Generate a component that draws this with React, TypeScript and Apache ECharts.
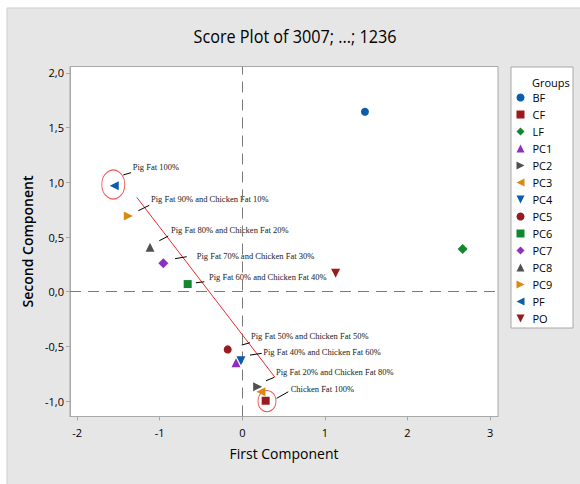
import React, { useEffect, useRef } from "react";
import * as echarts from "echarts";

// ---------- data ----------
const groups = ["BF", "CF", "LF", "PC1", "PC2", "PC3", "PC4", "PC5", "PC6", "PC7", "PC8", "PC9", "PF", "PO"];
const firstComponent = [1.485, 0.283, 2.668, -0.076, 0.186, 0.226, -0.016, -0.177, -0.661, -0.956, -1.117, -1.38, -1.55, 1.13];
const secondComponent = [1.645, -0.996, 0.39, -0.649, -0.868, -0.914, -0.631, -0.527, 0.07, 0.26, 0.406, 0.692, 0.969, 0.168];

const xTicks = [-2, -1, 0, 1, 2, 3];
const yTicks = [-1, -0.5, 0, 0.5, 1, 1.5, 2];

const annotationTexts = [
  "Pig Fat 100%",
  "Pig Fat 90% and Chicken Fat 10%",
  "Pig Fat 80% and Chicken Fat 20%",
  "Pig Fat 70% and Chicken Fat 30%",
  "Pig Fat 60% and Chicken Fat 40%",
  "Pig Fat 50% and Chicken Fat 50%",
  "Pig Fat 40% and Chicken Fat 60%",
  "Pig Fat 20% and Chicken Fat 80%",
  "Chicken Fat 100%",
];
const annotationX = [-1.327, -1.105, -0.863, -0.552, -0.403, 0.105, 0.254, 0.408, 0.586];
const annotationY = [1.137, 0.847, 0.561, 0.329, 0.137, -0.402, -0.548, -0.731, -0.889];
const leaderX1 = [-1.441, -1.259, -1.005, -0.815, -0.561, -0.007, 0.093, 0.287, 0.416];
const leaderY1 = [1.067, 0.74, 0.466, 0.302, 0.082, -0.487, -0.579, -0.814, -0.974];
const leaderX2 = [-1.347, -1.126, -0.896, -0.673, -0.46, 0.093, 0.235, 0.387, 0.557];
const leaderY2 = [1.088, 0.79, 0.509, 0.32, 0.091, -0.466, -0.563, -0.782, -0.914];

const trendStart = [-1.278, 0.863];
const trendEnd = [0.396, -0.782];

const circledX = [-1.562, 0.299];
const circledY = [0.98, -1.0];

// ---------- styles ----------
const BLUE = "#0b5cab";
const RED = "#9a1b1f";
const GREEN = "#12882e";
const PURPLE = "#8d2fc0";
const GRAY = "#505050";
const ORANGE = "#d98a10";
const RIGHT = "path://M0,0L10,5L0,10Z";
const LEFT = "path://M10,0L0,5L10,10Z";
const DOWN = "path://M0,0L10,0L5,10Z";
const symbolList = ["circle", "rect", "diamond", "triangle", RIGHT, LEFT, DOWN, "circle", "rect", "diamond", "triangle", RIGHT, LEFT, DOWN];
const colorList = [BLUE, RED, GREEN, PURPLE, GRAY, ORANGE, BLUE, RED, GREEN, PURPLE, GRAY, ORANGE, BLUE, RED];
const sizeList = [8, 8, 10, 9, 9, 9, 9, 8, 8, 10, 9, 9, 9, 9];
const circleSizes: [number, number][] = [[23, 29], [18, 21]];

const UI_FONT = "'Open Sans', 'Noto Sans', sans-serif";
const SERIF = "'Liberation Serif', 'DejaVu Serif', serif";

export default function App() {
  const ref = useRef<HTMLDivElement>(null);

  useEffect(() => {
    if (!ref.current) return;
    document.body.style.margin = "0";
    const chart = echarts.init(ref.current, undefined, { renderer: "svg" });

    const groupSeries = groups.map((g, i) => ({
      name: g,
      type: "scatter",
      data: [[firstComponent[i], secondComponent[i]]],
      symbol: symbolList[i],
      symbolSize: sizeList[i],
      itemStyle: { color: colorList[i], opacity: 1 },
      z: 5,
      emphasis: { disabled: true },
    }));

    const leaderLines = annotationTexts.map((_, i) => [
      { coord: [leaderX1[i], leaderY1[i]] },
      { coord: [leaderX2[i], leaderY2[i]] },
    ]);

    const option: any = {
      animation: false,
      backgroundColor: "#ffffff",
      graphic: [
        {
          type: "rect",
          shape: { x: 7, y: 8, width: 580, height: 484 },
          style: { fill: "#e6e6e6", stroke: "#cdcdcd", lineWidth: 1 },
          z: -10,
          silent: true,
        },
        {
          type: "text",
          x: 295,
          y: 36,
          scaleX: 0.9,
          style: {
            text: "Score Plot of 3007; ...; 1236",
            font: `500 18px ${UI_FONT}`,
            fill: "#000000",
            textAlign: "center",
            textVerticalAlign: "middle",
          },
        },
        {
          type: "rect",
          shape: { x: 511, y: 67, width: 62, height: 261 },
          style: { fill: "#ffffff", stroke: "#a8a8a8", lineWidth: 1 },
          z: 0,
          silent: true,
        },
        {
          type: "text",
          x: 532,
          y: 82,
          style: {
            text: "Groups",
            font: `11px ${UI_FONT}`,
            fill: "#000000",
            textAlign: "left",
            textVerticalAlign: "middle",
          },
          z: 1,
        },
      ],
      legend: {
        orient: "vertical",
        left: 516.5,
        top: 92,
        itemWidth: 8,
        itemHeight: 8,
        itemGap: 6,
        data: groups,
        textStyle: { fontSize: 11, fontFamily: UI_FONT, color: "#000000", padding: [0, 0, 0, 3] },
        padding: 0,
        selectedMode: false,
        z: 5,
      },
      grid: {
        left: 70,
        right: 82,
        top: 66.5,
        bottom: 67.5,
        show: true,
        backgroundColor: "#ffffff",
        borderColor: "#a8a8a8",
        borderWidth: 1,
        containLabel: false,
      },
      xAxis: {
        type: "value",
        min: -2.086,
        max: 3.096,
        name: "First Component",
        nameLocation: "middle",
        nameGap: 30,
        nameTextStyle: { fontSize: 14, fontFamily: UI_FONT, color: "#000000" },
        axisLine: { show: true, onZero: false, lineStyle: { color: "#a8a8a8" } },
        axisTick: { show: true, customValues: xTicks, length: 4, lineStyle: { color: "#a8a8a8" } },
        axisLabel: {
          customValues: xTicks,
          fontSize: 11,
          fontFamily: UI_FONT,
          color: "#000000",
          margin: 10,
          formatter: (v: number) => String(v),
        },
        splitLine: { show: false },
      },
      yAxis: {
        type: "value",
        min: -1.14,
        max: 2.058,
        name: "Second Component",
        nameLocation: "middle",
        nameGap: 33,
        nameTextStyle: { fontSize: 14, fontFamily: UI_FONT, color: "#000000", fontWeight: 600 },
        axisLine: { show: true, onZero: false, lineStyle: { color: "#a8a8a8" } },
        axisTick: { show: true, customValues: yTicks, length: 4, lineStyle: { color: "#a8a8a8" } },
        axisLabel: {
          customValues: yTicks,
          fontSize: 11,
          fontFamily: UI_FONT,
          color: "#000000",
          margin: 6,
          formatter: (v: number) => v.toFixed(1).replace(".", ","),
        },
        splitLine: { show: false },
      },
      series: [
        {
          name: "refLines",
          type: "scatter",
          data: [],
          silent: true,
          z: 2,
          markLine: {
            silent: true,
            symbol: "none",
            label: { show: false },
            animation: false,
            lineStyle: { color: "#7a7a7a", type: [11, 7], width: 1 },
            data: [{ xAxis: 0 }, { yAxis: 0 }],
          },
        },
        {
          name: "trend",
          type: "scatter",
          data: [],
          silent: true,
          z: 3,
          markLine: {
            silent: true,
            symbol: "none",
            label: { show: false },
            animation: false,
            lineStyle: { color: "#ee2a2a", type: "solid", width: 1 },
            data: [[{ coord: trendStart }, { coord: trendEnd }]],
          },
        },
        {
          name: "annotations",
          type: "scatter",
          symbolSize: 0,
          silent: true,
          z: 4,
          data: annotationTexts.map((t, i) => ({ value: [annotationX[i], annotationY[i]], name: t })),
          label: {
            show: true,
            position: "right",
            distance: 0,
            formatter: (p: any) => p.name,
            fontFamily: SERIF,
            fontSize: 8.5,
            color: "#000000",
            textBorderColor: "rgba(0,0,0,0.35)",
            textBorderWidth: 0.3,
          },
          markLine: {
            silent: true,
            symbol: "none",
            label: { show: false },
            animation: false,
            lineStyle: { color: "#000000", type: "solid", width: 1 },
            data: leaderLines,
          },
        },
        {
          name: "circled",
          type: "scatter",
          silent: true,
          z: 4,
          data: circledX.map((x, i) => ({
            value: [x, circledY[i]],
            symbolSize: circleSizes[i],
          })),
          symbol: "circle",
          itemStyle: { color: "transparent", borderColor: "#ee2a2a", borderWidth: 1 },
        },
        ...groupSeries,
      ],
    };

    chart.setOption(option);
    return () => chart.dispose();
  }, []);

  return (
    <div
      ref={ref}
      style={{ position: "absolute", left: 0, top: 0, width: 580, height: 484 }}
    />
  );
}
